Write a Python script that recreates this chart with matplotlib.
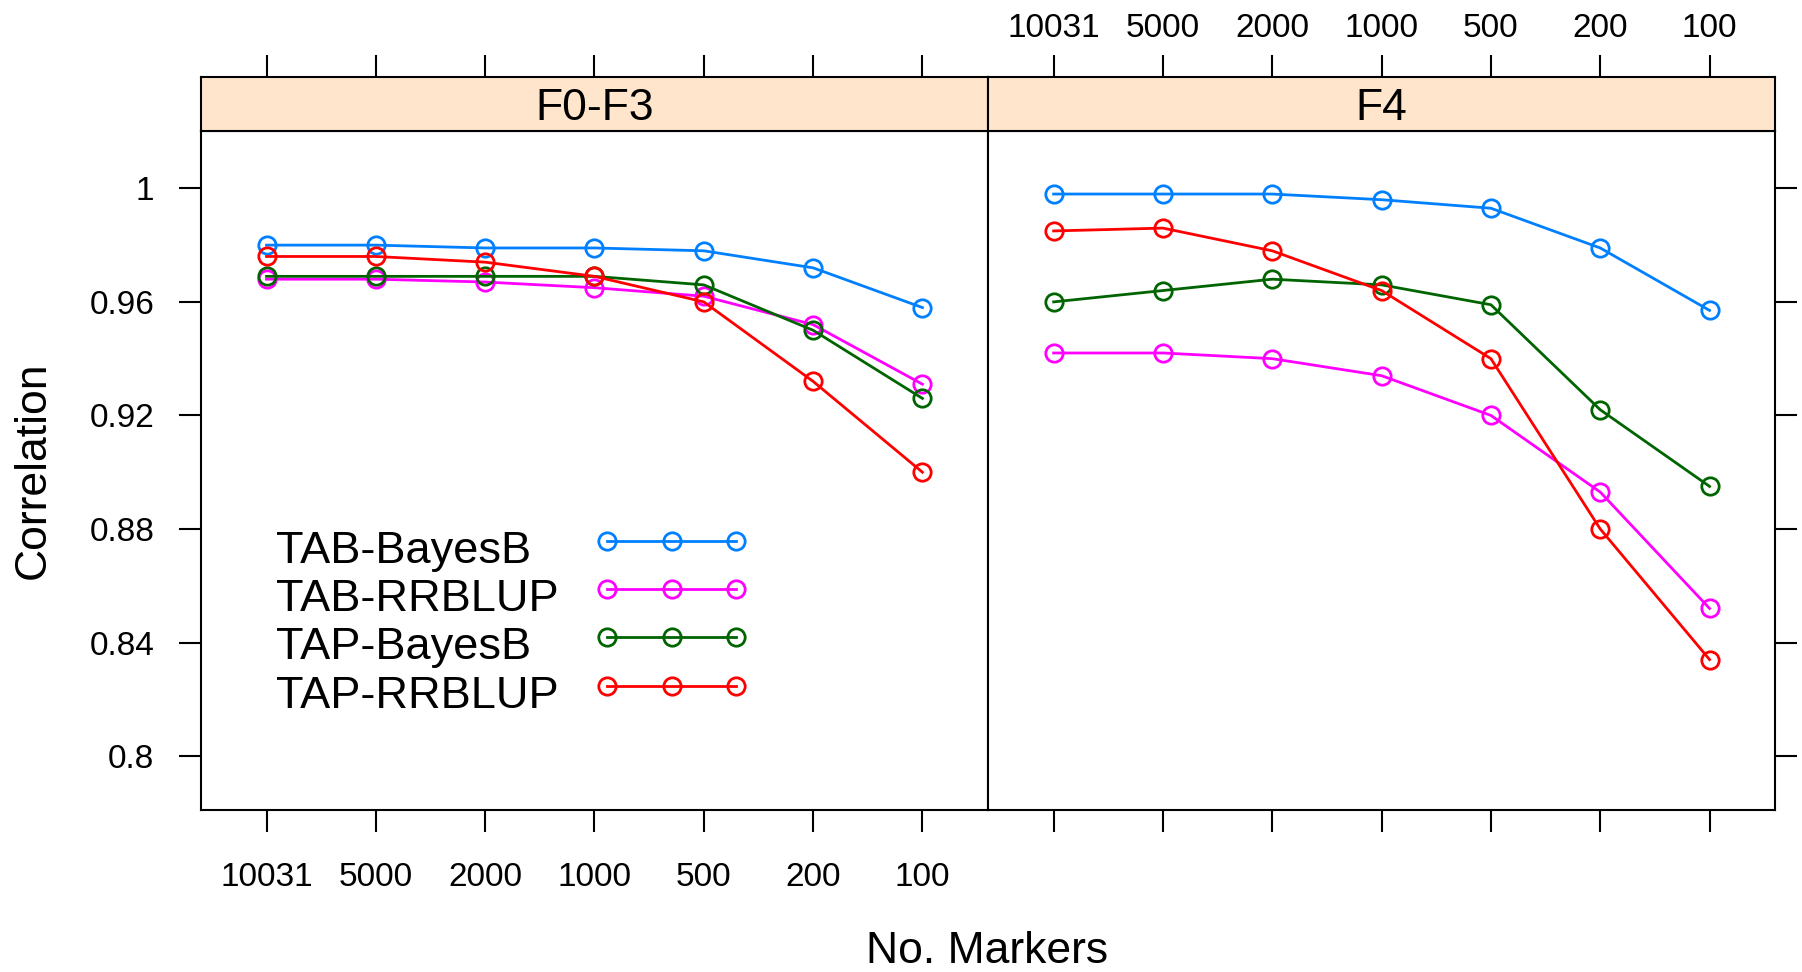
import matplotlib
matplotlib.use("Agg")
import matplotlib.pyplot as plt

plt.rcParams['font.family'] = ['Liberation Sans', 'DejaVu Sans']

# marker counts (categorical, shown left to right)
markers = ["10031", "5000", "2000", "1000", "500", "200", "100"]
panels = ["F0-F3", "F4"]
methods = ["TAB-BayesB", "TAB-RRBLUP", "TAP-BayesB", "TAP-RRBLUP"]
colors = ["#0080ff", "#ff00ff", "#006400", "#ff0000"]

# correlations
f03_tab_bayesb = [0.980, 0.980, 0.979, 0.979, 0.978, 0.972, 0.958]
f03_tab_rrblup = [0.968, 0.968, 0.967, 0.965, 0.962, 0.952, 0.931]
f03_tap_bayesb = [0.969, 0.969, 0.969, 0.969, 0.966, 0.950, 0.926]
f03_tap_rrblup = [0.976, 0.976, 0.974, 0.969, 0.960, 0.932, 0.900]

f4_tab_bayesb = [0.998, 0.998, 0.998, 0.996, 0.993, 0.979, 0.957]
f4_tab_rrblup = [0.942, 0.942, 0.940, 0.934, 0.920, 0.893, 0.852]
f4_tap_bayesb = [0.960, 0.964, 0.968, 0.966, 0.959, 0.922, 0.895]
f4_tap_rrblup = [0.985, 0.986, 0.978, 0.964, 0.940, 0.880, 0.834]

data = {
    "F0-F3": [f03_tab_bayesb, f03_tab_rrblup, f03_tap_bayesb, f03_tap_rrblup],
    "F4": [f4_tab_bayesb, f4_tab_rrblup, f4_tap_bayesb, f4_tap_rrblup],
}

yticks = [0.8, 0.84, 0.88, 0.92, 0.96, 1.0]
ytick_labels = ["0.8", "0.84", "0.88", "0.92", "0.96", "1"]

fig = plt.figure(figsize=(18.02, 9.72), dpi=100)

x = list(range(1, len(markers) + 1))
left0, bottom, pw, ph = 0.1115, 0.1667, 0.4368, 0.6985
strip_h = 0.0556
tick_len = 15.5
lw_frame = 1.5
line_kw = dict(lw=2, marker="o", ms=12.5, mfc="none", mew=2)

for i, name in enumerate(panels):
    left = left0 + i * pw
    ax = fig.add_axes([left, bottom, pw, ph])
    sax = fig.add_axes([left, bottom + ph, pw, strip_h])

    for vals, col, lab in zip(data[name], colors, methods):
        ax.plot(x, vals, color=col, label=lab, **line_kw)

    ax.set_xlim(0.4, 7.6)
    ax.set_ylim(0.781, 1.0202)
    ax.set_yticks(yticks)
    ax.set_xticks(x)
    for s in ax.spines.values():
        s.set_linewidth(lw_frame)
    ax.tick_params(axis="both", direction="out", length=tick_len, width=1.5,
                   labelsize=24)
    ax.tick_params(axis="x", pad=22)
    ax.tick_params(axis="y", pad=18)
    if i == 0:
        ax.set_xticklabels(markers)
        ax.set_yticklabels(ytick_labels)
        ax.set_ylabel("Correlation", fontsize=32, labelpad=26)
    else:
        ax.set_xticklabels([])
        ax.yaxis.tick_right()
        ax.set_yticklabels([])

    # strip with top ticks
    sax.set_facecolor("#ffe5cc")
    sax.set_xlim(0.4, 7.6)
    sax.set_ylim(0, 1)
    sax.set_yticks([])
    sax.set_xticks(x)
    sax.xaxis.tick_top()
    sax.tick_params(axis="x", direction="out", length=tick_len, width=1.5,
                    labelsize=24, pad=8)
    if i == 1:
        sax.set_xticklabels(markers)
    else:
        sax.set_xticklabels([])
    for s in sax.spines.values():
        s.set_linewidth(lw_frame)
    sax.text(0.5, 0.42, name, transform=sax.transAxes, ha="center",
             va="center", fontsize=32)

    if i == 0:
        # key inside the first panel: text left, three-point sample right
        key_x = [0.5163, 0.5979, 0.6794]
        for k, (lab, col) in enumerate(zip(methods, colors)):
            yy = 0.3966 - k * 0.0711
            ax.plot(key_x, [yy] * 3, color=col, transform=ax.transAxes,
                    **line_kw)
            ax.text(0.0953, yy - 0.0324, lab, transform=ax.transAxes,
                    fontsize=32.5, va="baseline", ha="left")

fig.text(0.548, 0.0216, "No. Markers", fontsize=32, ha="center", va="center")

fig.savefig("out.png", dpi=100)
